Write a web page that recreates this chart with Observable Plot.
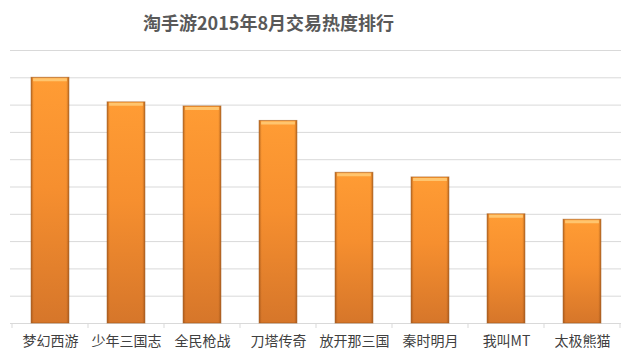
<!DOCTYPE html>
<html>
<head>
<meta charset="utf-8">
<script src="https://cdn.jsdelivr.net/npm/d3@7"></script>
<script src="https://cdn.jsdelivr.net/npm/@observablehq/plot@0.6"></script>
<style>
  html, body { margin: 0; padding: 0; background: #ffffff; }
  #title {
    height: 44px; line-height: 44px; width: 631px;
    font-family: "Noto Sans CJK SC", "Noto Sans", sans-serif;
    font-weight: bold; font-size: 18px; color: #595959;
    box-sizing: border-box; padding-left: 143px; white-space: nowrap;
  }
</style>
</head>
<body>
<div id="title">淘手游2015年8月交易热度排行</div>
<div id="chart"></div>
<script>
const categories = ["梦幻西游", "少年三国志", "全民枪战", "刀塔传奇", "放开那三国", "秦时明月", "我叫MT", "太极熊猫"];
const heat = [9.0, 8.1, 7.95, 7.42, 5.52, 5.35, 4.0, 3.8];
const yDomain = [0, 10];

const data = categories.map((c, i) => ({category: c, value: heat[i]}));

const W = 631, H = 311, ML = 10, MR = 10, MT = 6, MB = 32;
const step = (W - ML - MR) / categories.length;
const inset = step / 4;

const bandEdges = (index, scales) => {
  const x = scales.x, y = scales.y;
  const bw = typeof x.bandwidth === "function" ? x.bandwidth() : x.bandwidth;
  const y0 = y(0);
  const g = d3.create("svg:g").attr("stroke", "#d9d9d9").attr("stroke-width", 1);
  const xs = categories.map(c => x(c));
  xs.push(xs[xs.length - 1] + bw);
  for (const px of xs) {
    g.append("line").attr("x1", px).attr("x2", px).attr("y1", y0).attr("y2", y0 + 5);
  }
  return g.node();
};

const plot = Plot.plot({
  width: W, height: H,
  marginLeft: ML, marginRight: MR, marginTop: MT, marginBottom: MB,
  style: {fontFamily: "'Noto Sans CJK SC', 'Noto Sans', sans-serif", background: "#ffffff"},
  x: {domain: categories, padding: 0},
  y: {domain: yDomain, axis: null},
  marks: [
    Plot.gridY({ticks: 10, stroke: "#d9d9d9", strokeOpacity: 1}),
    Plot.ruleY([0], {stroke: "#d9d9d9", strokeOpacity: 1}),
    bandEdges,
    Plot.barY(data, {x: "category", y: "value", fill: "url(#barGrad)", insetLeft: inset, insetRight: inset}),
    Plot.barY(data, {x: "category", y: "value", fill: "url(#edgeGrad)", insetLeft: inset, insetRight: inset}),
    Plot.barY(data, {x: "category", y: "value", fill: "none", stroke: "#9a5214", strokeOpacity: 0.55, strokeWidth: 1, insetLeft: inset, insetRight: inset}),
    Plot.tickY(data, {x: "category", y: "value", stroke: "#ffc56e", strokeWidth: 3, dy: 2, insetLeft: inset + 2, insetRight: inset + 2}),
    Plot.axisX({tickSize: 0, tickPadding: 13, fontSize: 14, color: "#404040", label: null})
  ]
});

const svg = d3.select(plot);
const defs = svg.insert("defs", ":first-child");
const g1 = defs.append("linearGradient").attr("id", "barGrad").attr("x1", 0).attr("y1", 0).attr("x2", 0).attr("y2", 1);
g1.append("stop").attr("offset", "0%").attr("stop-color", "#ff9c34");
g1.append("stop").attr("offset", "45%").attr("stop-color", "#f68f2f");
g1.append("stop").attr("offset", "100%").attr("stop-color", "#d6762a");
const g2 = defs.append("linearGradient").attr("id", "edgeGrad").attr("x1", 0).attr("y1", 0).attr("x2", 1).attr("y2", 0);
g2.append("stop").attr("offset", "0%").attr("stop-color", "#8a4510").attr("stop-opacity", 0.55);
g2.append("stop").attr("offset", "7%").attr("stop-color", "#8a4510").attr("stop-opacity", 0);
g2.append("stop").attr("offset", "93%").attr("stop-color", "#8a4510").attr("stop-opacity", 0);
g2.append("stop").attr("offset", "100%").attr("stop-color", "#8a4510").attr("stop-opacity", 0.55);

document.getElementById("chart").appendChild(plot);
</script>
</body>
</html>
